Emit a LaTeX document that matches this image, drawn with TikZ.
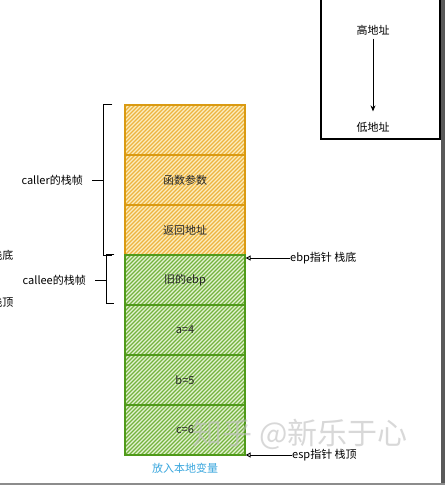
\documentclass[tikz,border=0pt]{standalone}
\usepackage{fontspec}
\setmainfont{Noto Sans CJK SC}
\usepackage{tikz}
\usetikzlibrary{arrows.meta,positioning}

\definecolor{hatchorange}{HTML}{EDB440}
\definecolor{fillorange}{HTML}{FCEDBE}
\definecolor{lineorange}{HTML}{DA9A12}
\definecolor{hatchgreen}{HTML}{74B33E}
\definecolor{fillgreen}{HTML}{E3F2D3}
\definecolor{linegreen}{HTML}{4F9A1A}
\definecolor{tipblue}{HTML}{3AA7DE}

\tikzset{
  hatched/.style={path picture={
      \foreach \k in {-56,-52,...,124}
        \draw[#1, line width=1.4pt] ([xshift=\k pt]path picture bounding box.south west) -- ++(60pt,60pt);}},
  callerrow/.style={draw=lineorange, line width=1.3pt, fill=fillorange, hatched=hatchorange,
      minimum width=120pt, minimum height=50pt, inner sep=0pt, text=black!85},
  calleerow/.style={draw=linegreen, line width=1.3pt, fill=fillgreen, hatched=hatchgreen,
      minimum width=120pt, minimum height=50pt, inner sep=0pt, text=black!85},
  brace/.style={line width=0.9pt},
  pointer/.style={line width=0.9pt, -{Triangle[open,length=5pt,width=5pt]}}
}

\begin{document}
\begin{tikzpicture}[x=1pt, y=-1pt, font=\fontsize{11}{13}\selectfont]
    \fill[white] (0,0) rectangle (445,485);
    \useasboundingbox (0,0) rectangle (445,485);

    % Draw frame
    \fill[black!65] (441,0) rectangle (445,485);
    \fill[black!45] (0,483) rectangle (445,485);

    % Draw address box
    \draw[line width=1.1pt] (321,-3) rectangle (440,139);
    \node (high) at (373,30) {高地址};
    \node (low) at (373,127) {低地址};
    \draw[line width=0.9pt, -{Stealth[length=6pt,width=5pt]}, shorten >=7pt] (high) -- (low);

    % Draw caller frame
    \node[callerrow] (argtop) at (185,130) {};
    \node[callerrow] (args) at (185,180) {函数参数};
    \node[callerrow] (retaddr) at (185,230) {返回地址};

    % Draw callee frame
    \node[calleerow] (oldebp) at (185,280) {旧的ebp};
    \node[calleerow] (vara) at (185,330) {a=4};
    \node[calleerow] (varb) at (185,380) {b=5};
    \node[calleerow] (varc) at (185,430) {c=6};

    \node[text=tipblue, below=4pt of varc] (localvars) {放入本地变量};

    % Draw braces
    \draw[brace] ([xshift=-12pt]argtop.north west) -- ([xshift=-21pt]argtop.north west)
        -- ([xshift=-21pt]retaddr.south west) -- ([xshift=-12pt]retaddr.south west);
    \draw[brace] ([xshift=-21pt]args.west) -- ++(-11pt,0) coordinate (callertick);
    \node[anchor=east] (callerlabel) at ([xshift=-6pt]callertick) {caller的栈帧};

    \draw[brace] ([xshift=-10pt]oldebp.north west) -- ([xshift=-18pt]oldebp.north west)
        -- ([xshift=-18pt,yshift=2pt]oldebp.south west) -- ([xshift=-10pt,yshift=2pt]oldebp.south west);
    \draw[brace] ([xshift=-18pt]oldebp.west) -- ++(-11pt,0) coordinate (calleetick);
    \node[anchor=east] (calleelabel) at ([xshift=-6pt]calleetick) {callee的栈帧};

    \node[anchor=east] (stackbottom) at (17,255) {栈底};
    \node[anchor=east] (stacktop) at (17,302) {栈顶};

    % Draw pointers
    \node[anchor=west, inner sep=0pt] (ebptext) at (290,258) {ebp指针 栈底};
    \draw[pointer] (ebptext.west) -- (ebptext.west -| oldebp.east);
    \node[anchor=west, inner sep=0pt] (esptext) at (292,455) {esp指针 栈顶};
    \draw[pointer] (esptext.west) -- (esptext.west -| varc.east);

    % Watermark
    \node[text=black!25, opacity=0.6, font=\fontsize{30}{32}\selectfont] (watermark) at (300,434) {知乎 @新乐于心};
\end{tikzpicture}
\end{document}
